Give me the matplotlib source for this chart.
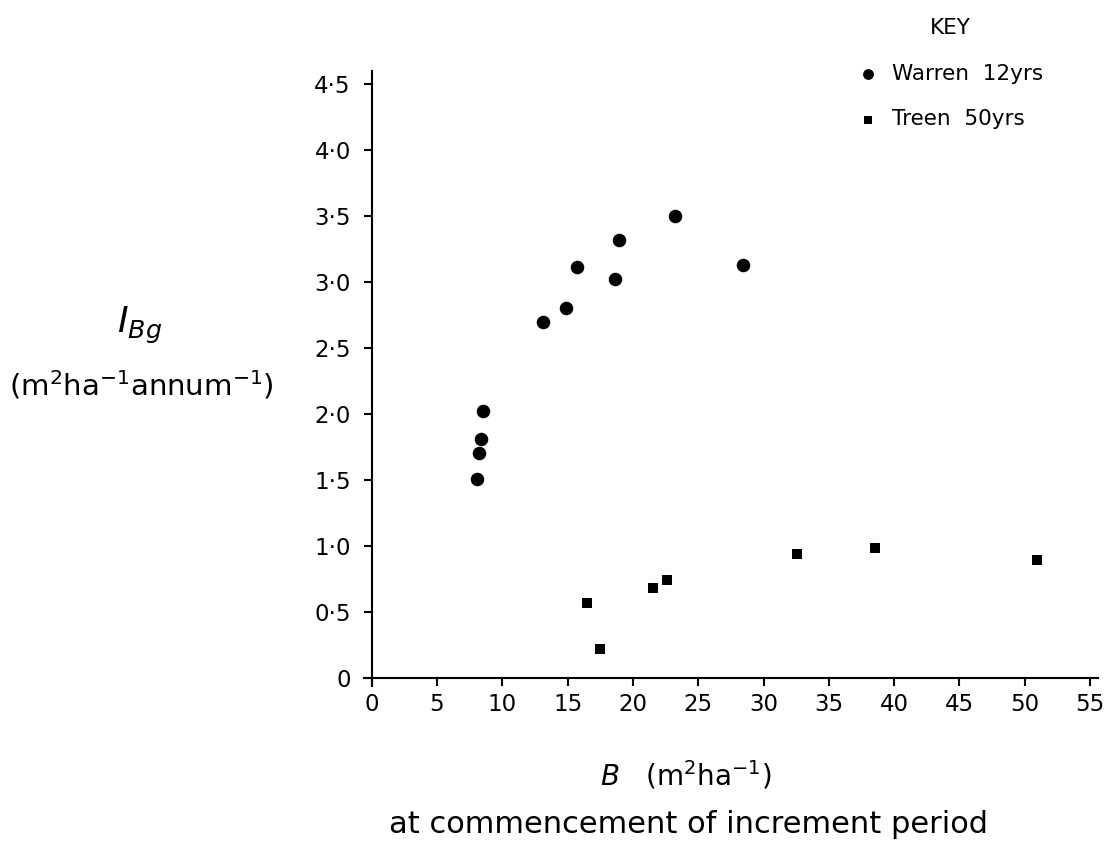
import numpy as np
import matplotlib
matplotlib.use("Agg")
from matplotlib import pyplot as plt
from matplotlib.ticker import FixedLocator, FuncFormatter

# basal area at start of period (m2/ha) and basal area increment (m2/ha/yr)
warren_b = [8.1, 8.2, 8.35, 8.55, 13.1, 14.9, 15.7, 18.6, 18.9, 23.2, 28.4]
warren_i = [1.51, 1.70, 1.81, 2.02, 2.70, 2.80, 3.11, 3.02, 3.32, 3.50, 3.13]

treen_b = [16.5, 17.5, 21.5, 22.6, 32.6, 38.5, 50.9]
treen_i = [0.57, 0.22, 0.68, 0.74, 0.94, 0.98, 0.89]

x_ticks = list(range(0, 56, 5))
y_ticks = [0, 0.5, 1.0, 1.5, 2.0, 2.5, 3.0, 3.5, 4.0, 4.5]

plt.rcParams['font.family'] = 'DejaVu Sans'

fig = plt.figure(figsize=(11.11, 8.5), dpi=100)
ax = fig.add_axes([0.3275, 0.1933, 0.6607, 0.7233])

ax.scatter(warren_b, warren_i, s=95, marker='o', color='black', lw=0,
           label='Warren  12yrs', zorder=3)
ax.scatter(treen_b, treen_i, s=62, marker='s', color='black', lw=0,
           label='Treen  50yrs', zorder=3)

ax.set_xlim(-0.6, 55.6)
ax.set_ylim(-0.06, 4.6)

# axes cross at the origin, like a hand-drawn graph
for side in ['top', 'right']:
    ax.spines[side].set_visible(False)
for side in ['left', 'bottom']:
    ax.spines[side].set_position(('data', 0))
    ax.spines[side].set_linewidth(1.5)

ax.xaxis.set_major_locator(FixedLocator(x_ticks))
ax.yaxis.set_major_locator(FixedLocator(y_ticks))
ax.yaxis.set_major_formatter(FuncFormatter(
    lambda v, p: '0' if v == 0 else f'{v:.1f}'.replace('.', '\u00b7')))
ax.xaxis.set_major_formatter(FuncFormatter(lambda v, p: f'{int(v)}'))
ax.tick_params(axis='both', direction='out', length=6, width=1.5,
               labelsize=16.5)
ax.tick_params(axis='y', pad=9)
ax.tick_params(axis='x', pad=5)

# axis titles
fig.text(0.126, 0.617, r'$I_{Bg}$', fontsize=26, ha='center', va='center')
fig.text(0.127, 0.547, r'$\mathregular{(m^2ha^{-1}annum^{-1})}$',
         fontsize=21, ha='center', va='center')
fig.text(0.617, 0.088, r'$B$   $\mathregular{(m^2ha^{-1})}$',
         fontsize=20, ha='center', va='center')
fig.text(0.620, 0.030, 'at commencement of increment period',
         fontsize=22, ha='center', va='center')

leg = ax.legend(title='KEY', loc='upper left', bbox_to_anchor=(0.754, 1.002),
                bbox_transform=fig.transFigure, frameon=False, fontsize=15.5,
                title_fontsize=15.5, markerscale=0.8, handletextpad=0.6,
                labelspacing=1.2, handlelength=1.0)

fig.savefig('out.png', dpi=100)
